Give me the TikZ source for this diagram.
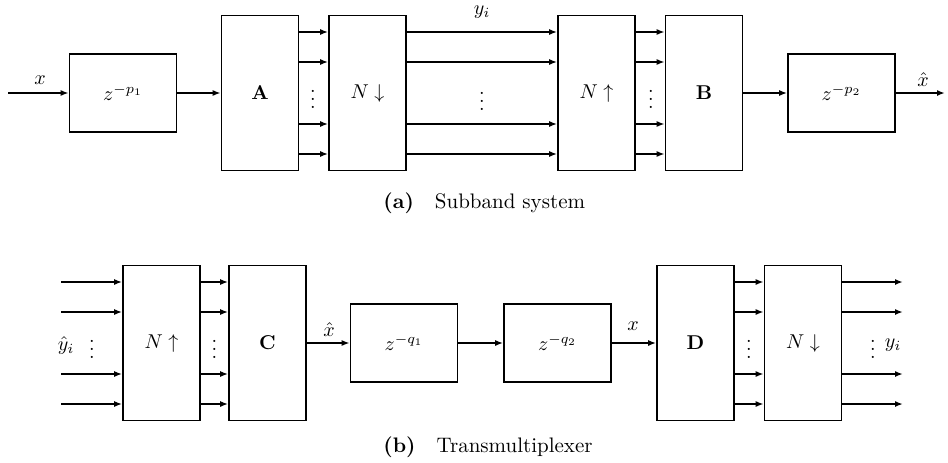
\documentclass[tikz,border=0pt]{standalone}
\usepackage{tikz}
\usetikzlibrary{arrows.meta,positioning}
\tikzset{
  basebox/.style={draw=black,line width=0.8pt,fill=white,inner sep=0pt,align=center},
  bankbox/.style={basebox,minimum width=38.5pt,minimum height=77.5pt},
  delaybox/.style={basebox,minimum width=53.5pt,minimum height=39pt},
  arrow/.style={-{Latex[length=4pt,width=3pt]},line width=0.9pt},
  lab/.style={inner sep=1pt},
  caption/.style={anchor=west,inner sep=0pt,font=\fontsize{10.5}{12.5}\selectfont}
}

\begin{document}
\begin{tikzpicture}[x=0.5pt,y=-0.5pt]
  \useasboundingbox (0,0) rectangle (948,462);
  % (a) subband system
  \coordinate (xin) at (8,93);
  \node[delaybox] (zp1) at (123,93) {$z^{-p_1}$};
  \node[bankbox] (A) at (260,93) {$\mathbf{A}$};
  \node[bankbox] (dnA) at (367.5,93) {$N\downarrow$};
  \node[bankbox] (upA) at (596.5,93) {$N\uparrow$};
  \node[bankbox] (B) at (704,93) {$\mathbf{B}$};
  \node[delaybox] (zp2) at (841.5,93) {$z^{-p_2}$};
  \coordinate (xout) at (945,93);

  \draw[arrow] (xin) -- (zp1);
  \draw[arrow] (zp1) -- (A);
  \foreach \dy in {30.5,15.5,-15.5,-30.5}{
    \draw[arrow] ([yshift=\dy pt]A.east) -- ([yshift=\dy pt]dnA.west);
    \draw[arrow] ([yshift=\dy pt]dnA.east) -- ([yshift=\dy pt]upA.west);
    \draw[arrow] ([yshift=\dy pt]upA.east) -- ([yshift=\dy pt]B.west);
  }
  \draw[arrow] (B) -- (zp2);
  \draw[arrow] (zp2) -- (xout);

  \node[lab] (xa) at (40,80) {$x$};
  \node[lab] (ya) at (482,12) {$y_i$};
  \node[lab] (xha) at (923,80) {$\hat{x}$};
  \node[lab] (vdA) at (313,93) {$\vdots$};
  \node[lab] (vdY) at (482,95) {$\vdots$};
  \node[lab] (vdB) at (651,93) {$\vdots$};
  \node[caption] (capA) at (383,203) {\textbf{(a)}\quad Subband system};

  % (b) transmultiplexer
  \coordinate (yin) at (61,343);
  \node[bankbox] (upC) at (161.5,343) {$N\uparrow$};
  \node[bankbox] (C) at (267.5,343) {$\mathbf{C}$};
  \node[delaybox] (zq1) at (404,343) {$z^{-q_1}$};
  \node[delaybox] (zq2) at (557.5,343) {$z^{-q_2}$};
  \node[bankbox] (D) at (695.5,343) {$\mathbf{D}$};
  \node[bankbox] (dnD) at (803,343) {$N\downarrow$};
  \coordinate (yout) at (903,343);

  \foreach \dy in {30.5,15.5,-15.5,-30.5}{
    \draw[arrow] ([yshift=\dy pt]yin) -- ([yshift=\dy pt]upC.west);
    \draw[arrow] ([yshift=\dy pt]upC.east) -- ([yshift=\dy pt]C.west);
    \draw[arrow] ([yshift=\dy pt]D.east) -- ([yshift=\dy pt]dnD.west);
    \draw[arrow] ([yshift=\dy pt]dnD.east) -- ([yshift=\dy pt]yout);
  }
  \draw[arrow] (C) -- (zq1);
  \draw[arrow] (zq1) -- (zq2);
  \draw[arrow] (zq2) -- (D);

  \node[lab] (yhb) at (66,345) {$\hat{y}_i$};
  \node[lab] (vdIn) at (92,343) {$\vdots$};
  \node[lab] (vdC) at (214.5,343) {$\vdots$};
  \node[lab] (xhb) at (329,330) {$\hat{x}$};
  \node[lab] (xb) at (633,326) {$x$};
  \node[lab] (vdD) at (749,343) {$\vdots$};
  \node[lab] (vdOut) at (873,343) {$\vdots$};
  \node[lab] (yb) at (893,345) {$y_i$};
  \node[caption] (capB) at (383,447) {\textbf{(b)}\quad Transmultiplexer};
\end{tikzpicture}
\end{document}
